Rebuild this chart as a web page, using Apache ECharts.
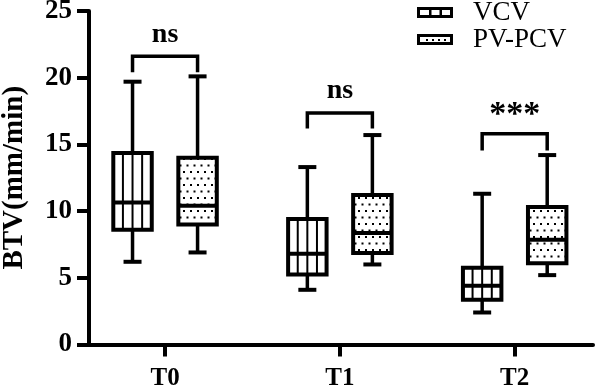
<!DOCTYPE html>
<html>
<head>
<meta charset="utf-8">
<script src="https://cdn.jsdelivr.net/npm/echarts@6/dist/echarts.min.js"></script>
<style>
  html, body { margin: 0; padding: 0; background: #fff; }
  #chart { width: 595px; height: 388px; }
</style>
</head>
<body>
<div id="chart"></div>
<script>
// === DATA ===
const categories = ['T0', 'T1', 'T2'];

const vcvMin    = [6.2, 4.1, 2.4];
const vcvQ1     = [8.6, 5.25, 3.35];
const vcvMedian = [10.65, 6.8, 4.4];
const vcvQ3     = [14.35, 9.4, 5.75];
const vcvMax    = [19.7, 13.3, 11.3];

const pcvMin    = [6.9, 6.0, 5.2];
const pcvQ1     = [9.0, 6.85, 6.1];
const pcvMedian = [10.4, 8.35, 7.85];
const pcvQ3     = [14.0, 11.2, 10.3];
const pcvMax    = [20.1, 15.7, 14.2];

const sigLabels   = ['ns', 'ns', '***'];
const bracketTop  = [21.6, 17.35, 15.8];
const bracketFoot = [20.4, 16.2, 14.55];

// === STYLE ===
const FONT = 'Liberation Serif';
const GROUP_OFFSET = 0.186;   // half distance between the two boxes, in category units
const BOX_WIDTH = 0.22;       // in category units
const CAP_WIDTH = 18;         // px

// dotted fill for PV-PCV
function makeDotPattern() {
    const c = document.createElement('canvas');
    c.width = 7; c.height = 13;
    const ctx = c.getContext('2d');
    ctx.fillStyle = '#fff';
    ctx.fillRect(0, 0, 7, 13);
    ctx.fillStyle = '#000';
    ctx.fillRect(1, 2, 2, 2);
    ctx.fillRect(4.5, 8.5, 2, 2);
    return c;
}
const dotPattern = { image: makeDotPattern(), repeat: 'repeat' };

// legend icons
function makeIcon(kind) {
    const c = document.createElement('canvas');
    c.width = 51; c.height = 11;
    const ctx = c.getContext('2d');
    ctx.fillStyle = '#fff';
    ctx.fillRect(1.5, 1.5, 33, 8);
    ctx.strokeStyle = '#000';
    ctx.lineWidth = 3;
    ctx.strokeRect(1.5, 1.5, 33, 8);
    ctx.fillStyle = '#000';
    if (kind === 'vcv') {
        ctx.fillRect(12, 1, 2.5, 9);
        ctx.fillRect(22.5, 1, 2.5, 9);
    } else {
        [9, 15, 21, 27].forEach(x => ctx.fillRect(x, 5, 2, 2));
    }
    return 'image://' + c.toDataURL();
}

function makeBoxSeries(name, mins, q1s, meds, q3s, maxs, offset, striped) {
    return {
        name: name,
        type: 'custom',
        data: categories.map((c, i) => [i, mins[i], q1s[i], meds[i], q3s[i], maxs[i]]),
        encode: { x: 0, y: [1, 2, 3, 4, 5] },
        renderItem: function (params, api) {
            const x = api.value(0) + offset;
            const cx = api.coord([x, 0])[0];
            const yMin = api.coord([x, api.value(1)])[1];
            const yQ1 = api.coord([x, api.value(2)])[1];
            const yMed = api.coord([x, api.value(3)])[1];
            const yQ3 = api.coord([x, api.value(4)])[1];
            const yMax = api.coord([x, api.value(5)])[1];
            const w = api.size([BOX_WIDTH, 0])[0];
            const left = cx - w / 2;
            const line = (x1, y1, x2, y2, lw) => ({
                type: 'line',
                shape: { x1: x1, y1: y1, x2: x2, y2: y2 },
                style: { stroke: '#000', lineWidth: lw }
            });
            const children = [
                line(cx, yMax, cx, yQ3, 3.5),
                line(cx, yQ1, cx, yMin, 3.5),
                line(cx - CAP_WIDTH / 2, yMax, cx + CAP_WIDTH / 2, yMax, 4),
                line(cx - CAP_WIDTH / 2, yMin, cx + CAP_WIDTH / 2, yMin, 4),
                {
                    type: 'rect',
                    shape: { x: left, y: yQ3, width: w, height: yQ1 - yQ3 },
                    style: { fill: striped ? '#fff' : dotPattern, stroke: '#000', lineWidth: 4 }
                }
            ];
            if (striped) {
                for (let k = 1; k < 4; k++) {
                    children.push(line(left + w * k / 4, yQ3, left + w * k / 4, yQ1, 2));
                }
            }
            children.push(line(left, yMed, left + w, yMed, 4));
            return { type: 'group', children: children };
        }
    };
}

const chart = echarts.init(document.getElementById('chart'));

const option = {
    animation: false,
    backgroundColor: '#fff',
    grid: { left: 89, right: 2, top: 11, bottom: 43.5, outerBoundsMode: 'none' },
    legend: {
        orient: 'vertical',
        left: 417,
        top: -1,
        padding: 0,
        itemGap: 0,
        itemWidth: 51,
        itemHeight: 11,
        selectedMode: false,
        textStyle: { fontFamily: FONT, fontSize: 27, color: '#000', lineHeight: 26 },
        data: [
            { name: 'VCV', icon: makeIcon('vcv') },
            { name: 'PV-PCV', icon: makeIcon('pcv') }
        ]
    },
    xAxis: {
        type: 'value',
        min: -0.435,
        max: 2.448,
        splitLine: { show: false },
        axisLine: { onZero: false, lineStyle: { color: '#000', width: 4 } },
        axisTick: { customValues: [0, 1, 2], length: 12, lineStyle: { color: '#000', width: 4 } },
        axisLabel: {
            customValues: [0, 1, 2],
            formatter: v => categories[Math.round(v)],
            margin: 22,
            fontFamily: FONT, fontWeight: 'bold', fontSize: 25, color: '#000'
        }
    },
    yAxis: {
        type: 'value',
        min: 0,
        max: 25,
        interval: 5,
        name: 'BTV(mm/min)',
        nameLocation: 'middle',
        nameGap: 60,
        nameTextStyle: { fontFamily: FONT, fontWeight: 'bold', fontSize: 29, color: '#000' },
        splitLine: { show: false },
        axisLine: { show: true, onZero: false, lineStyle: { color: '#000', width: 4 } },
        axisTick: { show: true, length: 12, lineStyle: { color: '#000', width: 4 } },
        axisLabel: { margin: 17, fontFamily: FONT, fontWeight: 'bold', fontSize: 27, color: '#000' }
    },
    series: [
        makeBoxSeries('VCV', vcvMin, vcvQ1, vcvMedian, vcvQ3, vcvMax, -GROUP_OFFSET, true),
        makeBoxSeries('PV-PCV', pcvMin, pcvQ1, pcvMedian, pcvQ3, pcvMax, GROUP_OFFSET, false),
        {
            name: 'significance',
            type: 'custom',
            data: categories.map((c, i) => [i, bracketTop[i], bracketFoot[i]]),
            encode: { x: 0, y: [1, 2] },
            renderItem: function (params, api) {
                const i = api.value(0);
                const xl = api.coord([i - GROUP_OFFSET, 0])[0];
                const xr = api.coord([i + GROUP_OFFSET, 0])[0];
                const yTop = api.coord([i, api.value(1)])[1];
                const yFoot = api.coord([i, api.value(2)])[1];
                const label = sigLabels[params.dataIndex];
                const stars = label.indexOf('*') >= 0;
                return {
                    type: 'group',
                    children: [
                        {
                            type: 'polyline',
                            shape: { points: [[xl, yFoot], [xl, yTop], [xr, yTop], [xr, yFoot]] },
                            style: { stroke: '#000', lineWidth: 3.5, fill: null }
                        },
                        {
                            type: 'text',
                            x: (xl + xr) / 2,
                            y: yTop - (stars ? 19 : 22),
                            style: {
                                text: label,
                                align: 'center',
                                verticalAlign: 'middle',
                                fontFamily: FONT,
                                fontWeight: 'bold',
                                fontSize: stars ? 34 : 28,
                                fill: '#000'
                            }
                        }
                    ]
                };
            }
        }
    ]
};

chart.setOption(option);
</script>
</body>
</html>
